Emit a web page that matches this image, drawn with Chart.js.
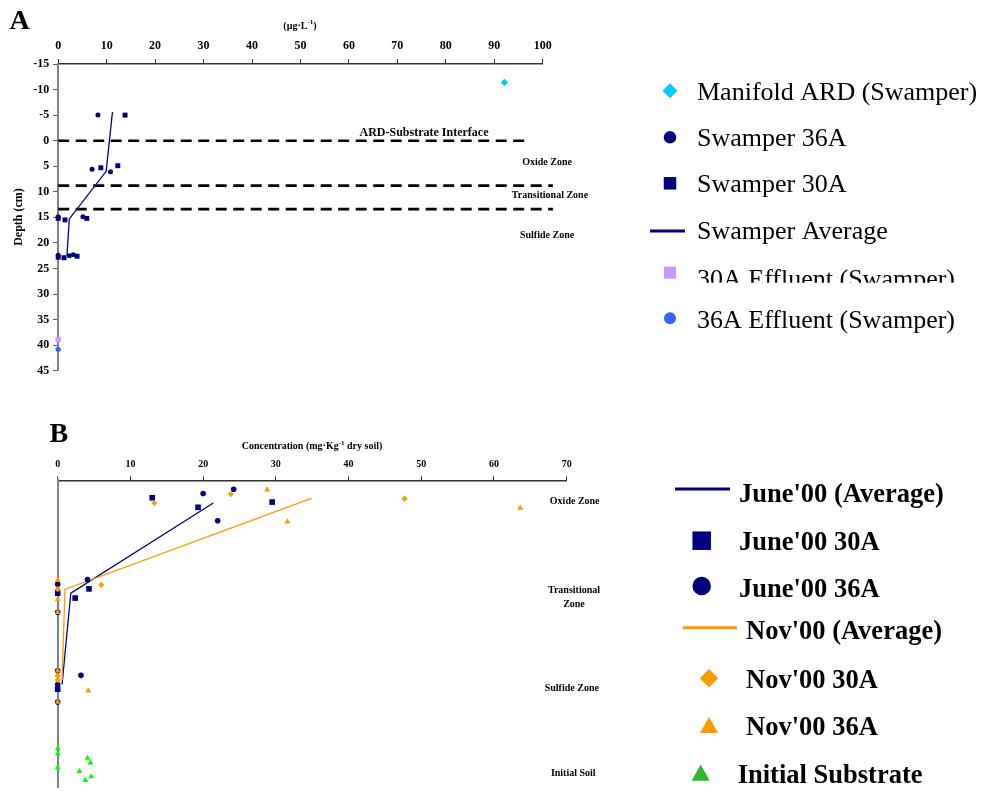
<!DOCTYPE html>
<html>
<head>
<meta charset="utf-8">
<script src="https://cdn.jsdelivr.net/npm/chart.js@4.4.1/dist/chart.umd.min.js"></script>
<style>
  html, body { margin: 0; padding: 0; background: #fff; overflow: hidden; }
  #chartA { position: absolute; left: 0; top: 0; }
  #chartB { position: absolute; left: 0; top: 400px; }
</style>
</head>
<body>
<canvas id="chartA" width="982" height="400"></canvas>
<canvas id="chartB" width="982" height="391"></canvas>
<script>
// ---------- Panel A: pore-water concentration (µg·L-1) against depth (cm) ----------
const manifoldARD    = [{x: 92.1, y: -11.4}];
const swamper36A     = [{x: 8.2, y: -5.0}, {x: 7.0, y: 5.6}, {x: 10.8, y: 6.1}, {x: 0, y: 14.9},
                        {x: 5.1, y: 14.9}, {x: 0, y: 22.4}, {x: 2.3, y: 22.5}, {x: 3.1, y: 22.3}];
const swamper30A     = [{x: 13.8, y: -5.0}, {x: 8.8, y: 5.3}, {x: 12.3, y: 4.9}, {x: 0, y: 15.2},
                        {x: 1.4, y: 15.5}, {x: 5.9, y: 15.2}, {x: 0, y: 22.8}, {x: 1.2, y: 22.9}, {x: 3.9, y: 22.6}];
const swamperAverage = [{x: 11.2, y: -5.6}, {x: 9.9, y: 6.0}, {x: 2.3, y: 15.3}, {x: 1.8, y: 22.5}];
const effluent30A    = [{x: 0, y: 38.9}];
const effluent36A    = [{x: 0, y: 40.8}];
// depth of each zone boundary and the concentration where its dashed line stops
const boundaryDepths = [0, 8.8, 13.4];
const boundaryEnds   = [96.5, 102.1, 102.1];
const concTicksA  = [0, 10, 20, 30, 40, 50, 60, 70, 80, 90, 100];
const depthTicksA = [-15, -10, -5, 0, 5, 10, 15, 20, 25, 30, 35, 40, 45];

// ---------- Panel B: soil concentration (mg·Kg-1 dry soil) by zone ----------
const june30A = [{x: 13.0, y: 5.7}, {x: 19.3, y: 8.8}, {x: 29.5, y: 7.1}, {x: 4.3, y: 35.4},
                 {x: 2.4, y: 38.4}, {x: 0, y: 36.8}, {x: 0, y: 68.1}];
const june36A = [{x: 20.0, y: 4.3}, {x: 24.2, y: 2.9}, {x: 22.0, y: 13.2}, {x: 4.1, y: 32.4},
                 {x: 0, y: 33.9}, {x: 0, y: 43.0}, {x: 0, y: 62.1}, {x: 3.2, y: 63.6},
                 {x: 0, y: 66.6}, {x: 0, y: 72.3}];
const nov30A  = [{x: 13.3, y: 7.4}, {x: 23.8, y: 4.5}, {x: 47.7, y: 6.0}, {x: 6.0, y: 34.1},
                 {x: 0, y: 35.5}, {x: 0, y: 63.7}, {x: 0, y: 65.1}];
const nov36A  = [{x: 28.8, y: 3.1}, {x: 31.6, y: 13.5}, {x: 63.6, y: 9.0}, {x: 0, y: 32.6},
                 {x: 0, y: 38.8}, {x: 0, y: 43.0}, {x: 0, y: 62.1}, {x: 0, y: 72.3}, {x: 4.2, y: 68.6}];
const initialSubstrate = [{x: 0, y: 87.5}, {x: 0, y: 89.2}, {x: 0, y: 93.7}, {x: 4.1, y: 90.6},
                          {x: 4.5, y: 92.1}, {x: 3.0, y: 94.9}, {x: 4.6, y: 96.6}, {x: 3.8, y: 97.8}];
const juneAverage = [{x: 21.4, y: 7.4}, {x: 1.8, y: 36.8}, {x: 0.6, y: 66.6}];
const novAverage  = [{x: 34.9, y: 5.9}, {x: 1.0, y: 35.6}, {x: 0.6, y: 65.2}];
const concTicksB = [0, 10, 20, 30, 40, 50, 60, 70];

// ---------- styling ----------
const SERIF  = '"Liberation Serif", "Times New Roman", Times, serif';
const NAVY   = '#000080';
const ORANGE = '#ff9900';
const GREEN  = '#00ff00';

function markerPath(ctx, shape, x, y, s) {
  ctx.beginPath();
  if (shape === 'circle') {
    ctx.arc(x, y, s / 2, 0, Math.PI * 2);
  } else if (shape === 'square') {
    ctx.rect(x - s / 2, y - s / 2, s, s);
  } else if (shape === 'diamond') {
    ctx.moveTo(x, y - s / 2); ctx.lineTo(x + s / 2, y);
    ctx.lineTo(x, y + s / 2); ctx.lineTo(x - s / 2, y); ctx.closePath();
  } else if (shape === 'triangle') {
    const h = s * 0.9;
    ctx.moveTo(x, y - h / 2); ctx.lineTo(x + s / 2, y + h / 2);
    ctx.lineTo(x - s / 2, y + h / 2); ctx.closePath();
  }
}

function drawLegend(ctx, entries, font) {
  entries.forEach(e => {
    ctx.save();
    if (e.shape === 'line') {
      ctx.strokeStyle = e.color; ctx.lineWidth = 3;
      ctx.beginPath(); ctx.moveTo(e.x0, e.my); ctx.lineTo(e.x1, e.my); ctx.stroke();
    } else {
      ctx.fillStyle = e.color;
      markerPath(ctx, e.shape, e.mx, e.my, e.size);
      ctx.fill();
    }
    if (e.clipY) {
      ctx.beginPath(); ctx.rect(0, 0, 982, e.clipY); ctx.clip();
    }
    ctx.fillStyle = '#000';
    ctx.font = font;
    ctx.textAlign = 'left';
    ctx.textBaseline = 'alphabetic';
    ctx.fillText(e.label, e.tx, e.ty);
    ctx.restore();
  });
}

// text with a superscript part, centred on (cx, cy)
function drawSupText(ctx, base, sup, tail, cx, cy, size) {
  const fMain = `bold ${size}px ${SERIF}`;
  const fSup = `bold ${Math.round(size * 0.65)}px ${SERIF}`;
  ctx.font = fMain;
  const wb = ctx.measureText(base).width, wt = ctx.measureText(tail).width;
  ctx.font = fSup;
  const ws = ctx.measureText(sup).width;
  let x = cx - (wb + ws + wt) / 2;
  ctx.textAlign = 'left';
  ctx.textBaseline = 'middle';
  ctx.font = fMain; ctx.fillText(base, x, cy); x += wb;
  ctx.font = fSup;  ctx.fillText(sup, x, cy - size * 0.35); x += ws;
  ctx.font = fMain; ctx.fillText(tail, x, cy);
}

const zoneLabelsA = [
  {text: 'ARD-Substrate Interface', x: 75.5, y: -1.5, size: 12},
  {text: 'Oxide Zone', x: 100.9, y: 4.2, size: 10},
  {text: 'Transitional Zone', x: 101.5, y: 10.8, size: 10},
  {text: 'Sulfide Zone', x: 100.9, y: 18.5, size: 10}
];
const zoneLabelsB = [
  {lines: ['Oxide Zone'], x: 71.1, y: 6.8},
  {lines: ['Transitional', 'Zone'], x: 71.0, y: 38.2},
  {lines: ['Sulfide Zone'], x: 70.7, y: 67.7},
  {lines: ['Initial Soil'], x: 70.9, y: 95.7}
];

const legendA = [
  {label: 'Manifold ARD (Swamper)', shape: 'diamond', color: '#00ccff', size: 15, mx: 670, my: 90.7, tx: 697, ty: 100},
  {label: 'Swamper 36A', shape: 'circle', color: NAVY, size: 12.5, mx: 670, my: 137.3, tx: 697, ty: 146},
  {label: 'Swamper 30A', shape: 'square', color: NAVY, size: 12.5, mx: 670, my: 183.3, tx: 697, ty: 192},
  {label: 'Swamper Average', shape: 'line', color: NAVY, x0: 650, x1: 685, my: 231, tx: 697, ty: 239},
  {label: '30A Effluent (Swamper)', shape: 'square', color: '#cc99ff', size: 12, mx: 670, my: 272.7, tx: 697, ty: 287, clipY: 282.7},
  {label: '36A Effluent (Swamper)', shape: 'circle', color: '#3366ff', size: 12, mx: 670, my: 318.3, tx: 697, ty: 328}
];
// panel B canvas starts 400px down the page
const legendB = [
  {label: "June'00 (Average)", shape: 'line', color: NAVY, x0: 675, x1: 730, my: 89, tx: 739, ty: 101.5},
  {label: "June'00 30A", shape: 'square', color: NAVY, size: 18.5, mx: 701.7, my: 140.7, tx: 739, ty: 150},
  {label: "June'00 36A", shape: 'circle', color: NAVY, size: 18.5, mx: 701.7, my: 186, tx: 739, ty: 197},
  {label: "Nov'00 (Average)", shape: 'line', color: ORANGE, x0: 682.7, x1: 737, my: 227.7, tx: 746, ty: 238.5},
  {label: "Nov'00 30A", shape: 'diamond', color: ORANGE, size: 18.5, mx: 709, my: 278.3, tx: 746, ty: 288},
  {label: "Nov'00 36A", shape: 'triangle', color: ORANGE, size: 18, mx: 709, my: 325, tx: 746, ty: 335},
  {label: 'Initial Substrate', shape: 'triangle', color: '#2eb82e', size: 18, mx: 700.7, my: 372.7, tx: 737.7, ty: 383}
];

const panelAPlugin = {
  id: 'panelADecor',
  afterDraw(chart) {
    const {ctx} = chart;
    const sx = chart.scales.x, sy = chart.scales.y;
    ctx.save();
    ctx.fillStyle = '#000';
    ctx.font = `bold 28px ${SERIF}`;
    ctx.textAlign = 'center'; ctx.textBaseline = 'middle';
    ctx.fillText('A', 19.7, 22);
    drawSupText(ctx, '(µg·L', '-1', ')', 300, 26, 10);
    ctx.save();
    ctx.translate(19, 217); ctx.rotate(-Math.PI / 2);
    ctx.font = `bold 12px ${SERIF}`; ctx.textAlign = 'center'; ctx.textBaseline = 'middle';
    ctx.fillText('Depth (cm)', 0, 0);
    ctx.restore();
    zoneLabelsA.forEach(z => {
      ctx.font = `bold ${z.size}px ${SERIF}`;
      ctx.textAlign = 'center'; ctx.textBaseline = 'middle';
      ctx.fillText(z.text, sx.getPixelForValue(z.x), sy.getPixelForValue(z.y));
    });
    drawLegend(ctx, legendA, `26px ${SERIF}`);
    ctx.restore();
  }
};

const panelBPlugin = {
  id: 'panelBDecor',
  afterDraw(chart) {
    const {ctx} = chart;
    const sx = chart.scales.x, sy = chart.scales.y;
    ctx.save();
    ctx.fillStyle = '#000';
    ctx.font = `bold 28px ${SERIF}`;
    ctx.textAlign = 'center'; ctx.textBaseline = 'middle';
    ctx.fillText('B', 58.8, 35);
    // axis title: "Concentration (mg·Kg-1 dry soil)"
    drawSupText(ctx, 'Concentration (mg·Kg', '-1', ' dry soil)', 312, 46.7, 10);
    zoneLabelsB.forEach(z => {
      ctx.font = `bold 10px ${SERIF}`;
      ctx.textAlign = 'center'; ctx.textBaseline = 'middle';
      const px = sx.getPixelForValue(z.x), py = sy.getPixelForValue(z.y);
      const n = z.lines.length;
      z.lines.forEach((t, i) => ctx.fillText(t, px, py + (i - (n - 1) / 2) * 13.5));
    });
    drawLegend(ctx, legendB, `bold 26.5px ${SERIF}`);
    ctx.restore();
  }
};

// marker series are not clipped, so values sitting on the depth axis stay whole
function pointSet(label, data, style, color, radius) {
  return {label, data, showLine: false, pointStyle: style, pointRadius: radius,
          pointHoverRadius: radius, pointBackgroundColor: color, pointBorderWidth: 0,
          borderColor: color, backgroundColor: color, clip: false};
}
function lineSet(label, data, color, width) {
  return {label, data, showLine: true, pointRadius: 0, pointHoverRadius: 0,
          borderColor: color, borderWidth: width, backgroundColor: color, fill: false, tension: 0};
}
function tickFont(size) { return {family: SERIF, size, weight: 'bold'}; }

// ---------- chart A ----------
const boundarySets = boundaryDepths.map((d, i) => ({
  label: 'boundary ' + i,
  data: [{x: 0, y: d}, {x: boundaryEnds[i], y: d}],
  showLine: true, pointRadius: 0, pointHoverRadius: 0,
  borderColor: '#000', borderWidth: 2.6, borderDash: [11, 6.5], clip: false
}));

new Chart(document.getElementById('chartA'), {
  type: 'scatter',
  data: {
    datasets: [
      pointSet('Manifold ARD (Swamper)', manifoldARD, 'rectRot', '#00ccff', 3.7),
      pointSet('Swamper 36A', swamper36A, 'circle', NAVY, 2.5),
      pointSet('Swamper 30A', swamper30A, 'rect', NAVY, 3.5),
      lineSet('Swamper Average', swamperAverage, NAVY, 1.3),
      pointSet('30A Effluent (Swamper)', effluent30A, 'rect', '#cc99ff', 3.8),
      pointSet('36A Effluent (Swamper)', effluent36A, 'circle', '#3366ff', 2.6),
      ...boundarySets
    ]
  },
  options: {
    responsive: false, animation: false, devicePixelRatio: 1, events: [],
    layout: {padding: {left: 0, top: 0, right: 982 - 542.7, bottom: 400 - 370.7}},
    plugins: {legend: {display: false}, tooltip: {enabled: false}},
    scales: {
      x: {
        type: 'linear', position: 'top', min: concTicksA[0], max: concTicksA[concTicksA.length - 1],
        afterBuildTicks: s => { s.ticks = concTicksA.map(v => ({value: v})); },
        afterFit: s => { s.height = 64; },
        ticks: {font: tickFont(12), color: '#000', padding: 5.8, maxRotation: 0},
        grid: {drawOnChartArea: false, tickLength: 5, tickColor: '#333', lineWidth: 1},
        border: {color: '#333', width: 1.6}
      },
      y: {
        type: 'linear', reverse: true, min: depthTicksA[0], max: depthTicksA[depthTicksA.length - 1],
        afterBuildTicks: s => { s.ticks = depthTicksA.map(v => ({value: v})); },
        afterFit: s => { s.width = 58.2; },
        ticks: {font: tickFont(12), color: '#000', padding: 4},
        grid: {drawOnChartArea: false, tickLength: 5, tickColor: '#555', lineWidth: 1},
        border: {color: '#808080', width: 2}
      }
    }
  },
  plugins: [panelAPlugin]
});

// ---------- chart B ----------
new Chart(document.getElementById('chartB'), {
  type: 'scatter',
  data: {
    datasets: [
      pointSet("Nov'00 30A", nov30A, 'rectRot', ORANGE, 3.1),
      pointSet("Nov'00 36A", nov36A, 'triangle', ORANGE, 3.5),
      pointSet('Initial Substrate', initialSubstrate, 'triangle', GREEN, 3.4),
      pointSet("June'00 30A", june30A, 'rect', NAVY, 4.0),
      pointSet("June'00 36A", june36A, 'circle', NAVY, 2.8),
      lineSet("Nov'00 (Average)", novAverage, ORANGE, 1.3),
      lineSet("June'00 (Average)", juneAverage, NAVY, 1.3)
    ]
  },
  options: {
    responsive: false, animation: false, devicePixelRatio: 1, events: [],
    layout: {padding: {left: 0, top: 0, right: 982 - 566.7, bottom: 0}},
    plugins: {legend: {display: false}, tooltip: {enabled: false}},
    scales: {
      x: {
        type: 'linear', position: 'top', min: concTicksB[0], max: concTicksB[concTicksB.length - 1],
        afterBuildTicks: s => { s.ticks = concTicksB.map(v => ({value: v})); },
        afterFit: s => { s.height = 80.3; },
        ticks: {font: tickFont(10), color: '#000', padding: 6, maxRotation: 0},
        grid: {drawOnChartArea: false, tickLength: 4, tickColor: '#333', lineWidth: 1},
        border: {color: '#333', width: 1.6}
      },
      y: {
        type: 'linear', reverse: true, min: 0, max: 100,
        afterFit: s => { s.width = 57.7; },
        ticks: {display: false},
        grid: {display: false},
        border: {color: '#808080', width: 2}
      }
    }
  },
  plugins: [panelBPlugin]
});
</script>
</body>
</html>
